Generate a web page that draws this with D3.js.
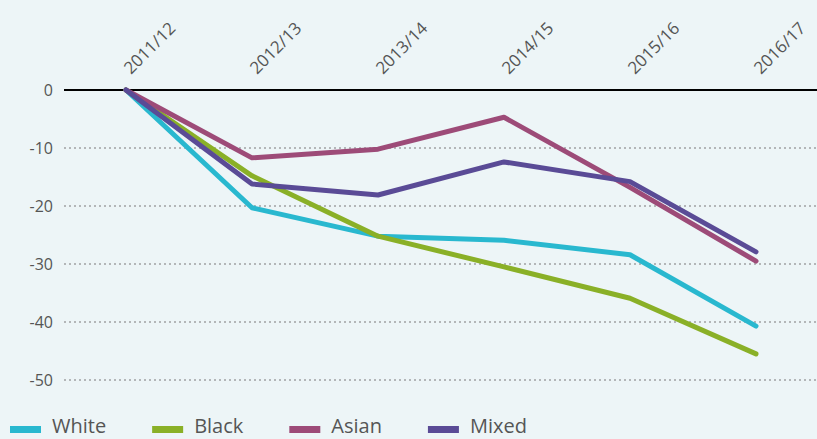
<!DOCTYPE html>
<html>
<head>
<meta charset="utf-8">
<script src="https://cdn.jsdelivr.net/npm/d3@7"></script>
<style>
  html, body { margin: 0; padding: 0; background: #edf5f7; }
  svg { display: block; font-family: "Open Sans", sans-serif; }
</style>
</head>
<body>
<svg id="chart" width="817" height="439"></svg>
<script>
// years along the top
var years = ["2011/12", "2012/13", "2013/14", "2014/15", "2015/16", "2016/17"];
var yTicks = [0, -10, -20, -30, -40, -50];

// percentage change since 2011/12
var white = [0, -20.3, -25.2, -25.9, -28.4, -40.7];
var black = [0, -14.8, -25.2, -30.5, -35.9, -45.5];
var asian = [0, -11.7, -10.2, -4.7, -16.8, -29.5];
var mixed = [0, -16.2, -18.1, -12.4, -15.8, -27.9];

var seriesNames = ["White", "Black", "Asian", "Mixed"];
var seriesColors = ["#29b8cf", "#8ab027", "#9d4b78", "#5a4b96"];

var series = [white, black, asian, mixed].map(function (vals, i) {
	return { name: seriesNames[i], color: seriesColors[i], values: vals };
});

var svg = d3.select("#chart");

var x = d3.scalePoint()
	.domain(years)
	.range([126, 756]);

var y = d3.scaleLinear()
	.domain([-50, 0])
	.range([380, 90]);

// dotted grid lines
svg.append("g")
	.selectAll("line")
	.data(yTicks.filter(function (d) { return d !== 0; }))
	.enter()
	.append("line")
	.attr("x1", 64)
	.attr("x2", 817)
	.attr("y1", function (d) { return y(d); })
	.attr("y2", function (d) { return y(d); })
	.attr("stroke", "#b3b6b8")
	.attr("stroke-width", 2)
	.attr("stroke-dasharray", "2,3");

// zero line
svg.append("line")
	.attr("x1", 64)
	.attr("x2", 817)
	.attr("y1", y(0))
	.attr("y2", y(0))
	.attr("stroke", "#000")
	.attr("stroke-width", 2);

// y labels
svg.append("g")
	.selectAll("text")
	.data(yTicks)
	.enter()
	.append("text")
	.attr("x", 53)
	.attr("y", function (d) { return y(d); })
	.attr("dy", "0.35em")
	.attr("text-anchor", "end")
	.attr("fill", "#555")
	.style("font-size", "16px")
	.text(function (d) { return d; });

// x labels, rotated
svg.append("g")
	.selectAll("text")
	.data(years)
	.enter()
	.append("text")
	.attr("transform", function (d) { return "translate(" + (x(d) + 5) + ",75) rotate(-45)"; })
	.attr("text-anchor", "start")
	.attr("fill", "#555")
	.style("font-size", "17px")
	.text(function (d) { return d; });

var line = d3.line()
	.x(function (d, i) { return x(years[i]); })
	.y(function (d) { return y(d); });

svg.append("g")
	.selectAll("path")
	.data(series)
	.enter()
	.append("path")
	.attr("d", function (d) { return line(d.values); })
	.attr("fill", "none")
	.attr("stroke", function (d) { return d.color; })
	.attr("stroke-width", 5)
	.attr("stroke-linecap", "round")
	.attr("stroke-linejoin", "round");

// legend
var legend = svg.append("g");
var lx = 10;
series.forEach(function (s) {
	legend.append("rect")
		.attr("x", lx)
		.attr("y", 426)
		.attr("width", 31)
		.attr("height", 7)
		.attr("fill", s.color);
	var t = legend.append("text")
		.attr("x", lx + 42)
		.attr("y", 433)
		.attr("fill", "#555")
		.style("font-size", "20px")
		.text(s.name);
	lx = lx + 42 + t.node().getComputedTextLength() + 46;
});
</script>
</body>
</html>
